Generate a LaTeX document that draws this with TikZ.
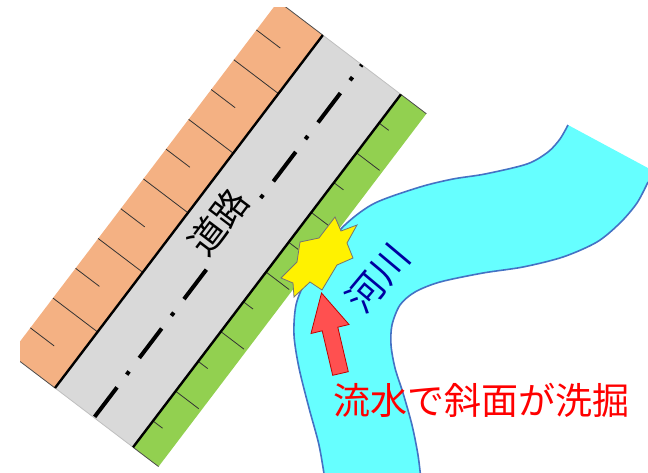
\documentclass[tikz,border=0pt]{standalone}
\usepackage{fontspec}
\usepackage{xcolor}
\newfontfamily\jpfont{Noto Sans CJK JP}
\definecolor{embank}{RGB}{244,177,131}
\definecolor{pavement}{RGB}{217,217,217}
\definecolor{verge}{RGB}{146,208,80}
\definecolor{water}{RGB}{102,255,255}
\definecolor{bank}{RGB}{68,114,196}
\definecolor{scour}{RGB}{255,80,80}
\definecolor{scourline}{RGB}{192,0,0}
\definecolor{rivertext}{RGB}{0,0,160}
\tikzstyle{hatchline}=[line width=0.8pt, black!80]
\tikzstyle{roadedge}=[line width=2.4pt, black]
\tikzstyle{centreline}=[line width=4pt, black]
\tikzstyle{endline}=[line width=0.8pt, black!70]
\tikzstyle{riverbank}=[line width=1.6pt, bank]

\begin{document}
\begin{tikzpicture}[x=1pt,y=-1pt]
  \useasboundingbox (0,0) rectangle (648,472);
  \clip (0,0) rectangle (648,472);

  %% Road with the cut slope (left) and the fill slope (right)
  \begin{scope}
    \clip (20,7) rectangle (648,472);
    \begin{scope}[shift={(55,388)}, rotate=52.8]
      \fill[embank] (0,-56) rectangle (443,0);
      \fill[pavement] (0,0) rectangle (443,98);
      \fill[verge] (0,98) rectangle (443,130);

      %% slope hatching, short and long in turn
      \foreach \u in {33,107.8,...,410} {
        \draw[hatchline] (\u,-56) -- (\u,-26);
        \draw[hatchline] (\u,98) -- (\u,110);
      }
      \foreach \u in {70.4,145.2,...,370} {
        \draw[hatchline] (\u,-56) -- (\u,0);
        \draw[hatchline] (\u,98) -- (\u,127);
      }

      %% ends of the strips
      \draw[endline] (0,-56) -- (0,0);
      \draw[endline] (443,-56) -- (443,0);
      \draw[endline] (0,98) -- (0,130);
      \draw[endline] (443,98) -- (443,130);
      \draw[line width=0.8pt, black!25] (0,0) -- (0,98);
      \draw[line width=0.8pt, black!25] (443,0) -- (443,98);

      \draw[roadedge] (0,0) -- (443,0);
      \draw[roadedge] (0,98) -- (443,98);

      %% centre line, dash and dot
      \foreach \i in {0,1,2,4,5}
        \draw[centreline] ({1+73.9*\i},49) -- ({38+73.9*\i},49);
      \foreach \i in {0,1,3,4,5}
        \draw[centreline] ({54+73.9*\i},49) -- ({58+73.9*\i},49);
      \draw[centreline] (441,49) -- (443,49);

      \draw (231,29.5) node[transform shape, font=\jpfont\fontsize{36}{36}\selectfont] (road) {道路};
    \end{scope}
  \end{scope}

  %% River
  \fill[water] plot[smooth] coordinates {(325,480) (319,445) (309,408) (299,368) (294,335) (296,305) (306,280) (325,248) (347,223) (375,203) (420,187) (453,179) (485,174) (527,164) (548,152) (560,139) (568,125)}
    -- (660,174.5) -- (660,182)
    -- plot[smooth] coordinates {(648,182) (637,203) (620,223) (597,242) (563,257) (523,267) (483,273) (440,282) (415,292) (400,305) (392,325) (391,345) (395,368) (403,393) (412,425) (418,455) (421,480)}
    -- cycle;
  \draw[riverbank] plot[smooth] coordinates {(325,480) (319,445) (309,408) (299,368) (294,335) (296,305) (306,280) (325,248) (347,223) (375,203) (420,187) (453,179) (485,174) (527,164) (548,152) (560,139) (568,125)};
  \draw[riverbank] plot[smooth] coordinates {(648,182) (637,203) (620,223) (597,242) (563,257) (523,267) (483,273) (440,282) (415,292) (400,305) (392,325) (391,345) (395,368) (403,393) (412,425) (418,455) (421,480)};

  %% Collapse point
  \draw[fill=yellow, draw=black!55, line width=0.8pt] (335,217) -- (341,231) -- (357,225) -- (347,243) -- (353,258) -- (337,265) -- (322,290) -- (310,282) -- (294,297) -- (293,283) -- (281,278) -- (297,262) -- (300,242) -- (319,238) -- cycle;

  %% Flow attacking the slope
  \draw[fill=scour, draw=scourline, line width=0.8pt] (321.5,293) -- (349,324.5) -- (337.8,327.2) -- (348.3,371.7) -- (332.7,375.3) -- (322.2,330.8) -- (311,333.5) -- cycle;

  \draw (378,278) node[rotate=50, text=rivertext, font=\jpfont\fontsize{37}{37}\selectfont] (river) {河川};
  \draw (481,400) node[text=red, font=\jpfont\fontsize{37}{37}\selectfont] (scourtext) {流水で斜面が洗掘};
\end{tikzpicture}
\end{document}
